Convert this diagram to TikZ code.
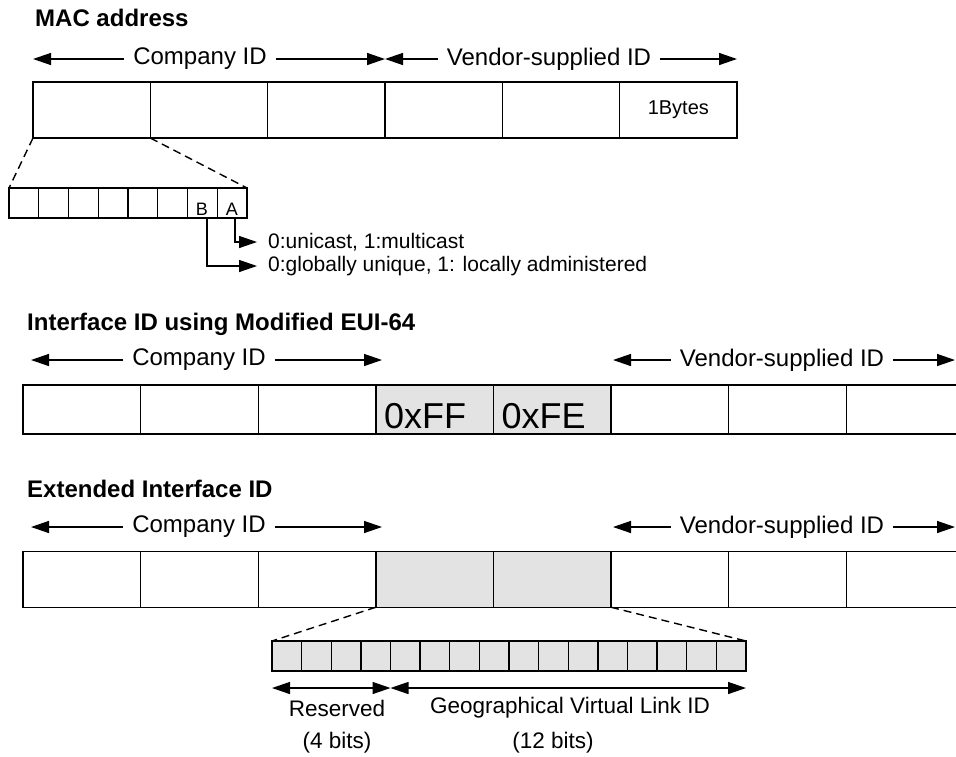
\documentclass[tikz,border=0pt]{standalone}
\usepackage{fontspec}
\setmainfont{Liberation Sans}
\usetikzlibrary{arrows.meta}
\definecolor{cellgray}{RGB}{227,227,227}
\begin{document}
\begin{tikzpicture}[x=1pt,y=-1pt,
  ln/.style={line width=1.4pt},
  cellbox/.style={draw,ln,inner sep=0pt,outer sep=0pt},
  bitbox/.style={cellbox,minimum width=29.7pt,minimum height=30pt},
  arr/.style={ln,-{Triangle[length=18pt,width=12pt]}},
  dbl/.style={ln,{Triangle[length=18pt,width=12pt]}-{Triangle[length=18pt,width=12pt]}},
  dsh/.style={ln,dash pattern=on 8pt off 5pt},
  ttl/.style={font=\fontsize{24}{28}\selectfont\bfseries,anchor=base west,inner sep=0pt},
  lbl/.style={font=\fontsize{24}{28}\selectfont,inner xsep=9pt,inner ysep=0pt},
  small/.style={font=\fontsize{21}{25}\selectfont,inner sep=0pt},
  bottomtxt/.style={font=\fontsize{22.5}{26}\selectfont,inner sep=0pt},
  gray cell/.style={fill=cellgray}]
\useasboundingbox (0,0) rectangle (956,756);

% ---------- MAC address ----------
\node[ttl] (t1) at (35,26) {MAC address};
\node[lbl] (c1) at (200,59) {Company ID};
\node[lbl] (v1) at (549,59) {Vendor-supplied ID};
\coordinate (c1l) at (33,59);
\coordinate (c1r) at (385,59);
\coordinate (v1r) at (737,59);
\draw[arr] (c1.west) -- (c1l);
\draw[arr] (c1.east) -- (c1r);
\draw[arr] (v1.west) -- (c1r);
\draw[arr] (v1.east) -- (v1r);
\foreach \i in {1,...,5}
  \node[cellbox,minimum width=117.33pt,minimum height=56pt] (m\i) at ({33+117.33*(\i-0.5)},110) {};
\node[cellbox,minimum width=117.33pt,minimum height=56pt,font=\fontsize{20}{24}\selectfont] (m6) at ({33+117.33*5.5},110) {1Bytes};

\foreach \i in {1,...,8}
  \node[bitbox] (b\i) at ({9+29.75*(\i-0.5)},203) {};
\node[font=\fontsize{18}{21}\selectfont,anchor=base,inner sep=0pt] (lb) at (202,215) {B};
\node[font=\fontsize{18}{21}\selectfont,anchor=base,inner sep=0pt] (la) at (232,215) {A};
\draw[dsh] (m1.south west) -- (b1.north west);
\draw[dsh] (m1.south east) -- (b8.north east);

\coordinate (aS) at (235,218);
\coordinate (bS) at (207,218);
\node[small,anchor=west,inner xsep=11pt] (ta) at (257,242) {0:unicast, 1:multicast};
\node[small,anchor=west,inner xsep=11pt] (tb) at (257,266) {0:globally unique, 1: locally administered};
\draw[arr] (aS) |- (ta.west);
\draw[arr] (bS) |- (tb.west);

% ---------- Interface ID using Modified EUI-64 ----------
\node[ttl] (t2) at (27,330) {Interface ID using Modified EUI-64};
\node[lbl] (c2) at (199,360) {Company ID};
\node[lbl] (v2) at (782,360) {Vendor-supplied ID};
\coordinate (c2l) at (31,360);
\coordinate (c2r) at (382,360);
\coordinate (v2l) at (613,360);
\coordinate (v2r) at (955,360);
\draw[arr] (c2.west) -- (c2l);
\draw[arr] (c2.east) -- (c2r);
\draw[arr] (v2.west) -- (v2l);
\draw[arr] (v2.east) -- (v2r);
\foreach \i in {1,2,3,6,7,8}
  \node[cellbox,minimum width=117.6pt,minimum height=49pt] (n\i) at ({23+117.6*(\i-0.5)},409.5) {};
\foreach \i in {4,5}
  \node[cellbox,gray cell,minimum width=117.6pt,minimum height=49pt] (n\i) at ({23+117.6*(\i-0.5)},409.5) {};
\node[font=\fontsize{36}{40}\selectfont,anchor=base west,inner sep=0pt] (ff) at ([xshift=8pt]n4.west |- 0,428) {0xFF};
\node[font=\fontsize{36}{40}\selectfont,anchor=base west,inner sep=0pt] (fe) at ([xshift=8pt]n5.west |- 0,428) {0xFE};

% ---------- Extended Interface ID ----------
\node[ttl] (t3) at (27,497) {Extended Interface ID};
\node[lbl] (c3) at (199,527) {Company ID};
\node[lbl] (v3) at (782,527) {Vendor-supplied ID};
\coordinate (c3l) at (31,527);
\coordinate (c3r) at (382,527);
\coordinate (v3l) at (613,527);
\coordinate (v3r) at (955,527);
\draw[arr] (c3.west) -- (c3l);
\draw[arr] (c3.east) -- (c3r);
\draw[arr] (v3.west) -- (v3l);
\draw[arr] (v3.east) -- (v3r);
\foreach \i in {1,2,3,6,7,8}
  \node[cellbox,minimum width=117.6pt,minimum height=55.5pt] (e\i) at ({23+117.6*(\i-0.5)},579.5) {};
\foreach \i in {4,5}
  \node[cellbox,gray cell,minimum width=117.6pt,minimum height=55.5pt] (e\i) at ({23+117.6*(\i-0.5)},579.5) {};

\foreach \i in {1,...,16}
  \node[bitbox,gray cell,minimum width=29.625pt] (g\i) at ({272+29.625*(\i-0.5)},656) {};
\draw[dsh] (e4.south west) -- (g1.north west);
\draw[dsh] (e5.south east) -- (g16.north east);

\coordinate (rl) at (272,688);
\coordinate (rm) at (390.5,688);
\coordinate (rr) at (746,688);
\draw[dbl] (rl) -- (rm);
\draw[dbl] (rm) -- (rr);
\node[bottomtxt] (res) at (337,708) {Reserved};
\node[bottomtxt] (geo) at (570,708) {Geographical Virtual Link ID};
\node[bottomtxt] (b4) at (337,743) {(4 bits)};
\node[bottomtxt] (b12) at (553,743) {(12 bits)};
\end{tikzpicture}
\end{document}
